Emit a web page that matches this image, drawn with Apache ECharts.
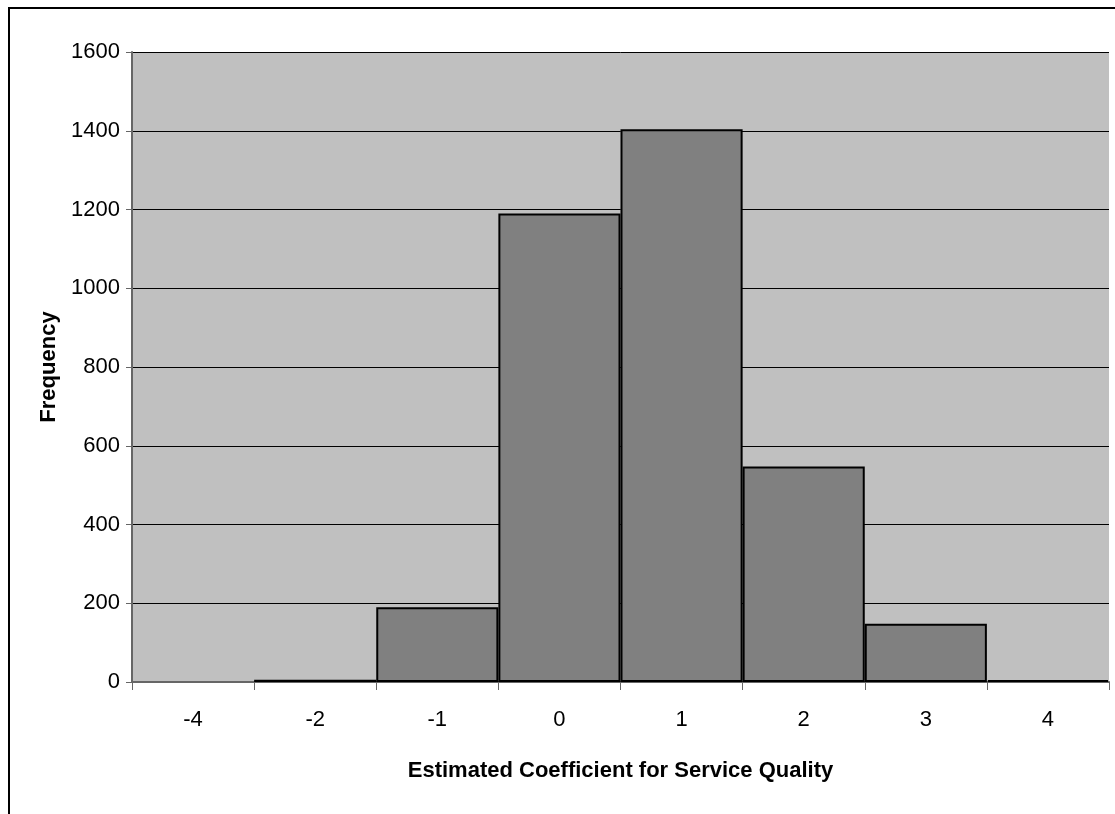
<!DOCTYPE html>
<html>
<head>
<meta charset="utf-8">
<script src="https://cdn.jsdelivr.net/npm/echarts@6/dist/echarts.min.js"></script>
<style>
html,body{margin:0;padding:0;background:#fff;}
#c{width:1115px;height:814px;}
</style>
</head>
<body>
<div id="c"></div>
<script>
const categories = ['-4', '-2', '-1', '0', '1', '2', '3', '4'];
const frequency = [0, 6, 190, 1190, 1404, 547, 148, 5];
const yTicks = { min: 0, max: 1600, interval: 200 };
const xTitle = 'Estimated Coefficient for Service Quality';
const yTitle = 'Frequency';

const FONT = '"Liberation Sans", Arial, sans-serif';
const chart = echarts.init(document.getElementById('c'), null, { renderer: 'canvas' });
const barData = frequency.map(v => v === 0
  ? { value: v, itemStyle: { borderWidth: 0 } }
  : { value: v });
chart.setOption({
  animation: false,
  backgroundColor: '#ffffff',
  graphic: [{
    type: 'rect', z: 100,
    shape: { x: 9, y: 8, width: 1200, height: 900 },
    style: { fill: 'none', stroke: '#000', lineWidth: 2 }
  }],
  grid: { left: 132, right: 6, top: 52, bottom: 132, backgroundColor: '#c0c0c0', show: true, borderWidth: 0 },
  xAxis: {
    type: 'category',
    data: categories,
    boundaryGap: true,
    name: xTitle,
    nameLocation: 'middle',
    nameGap: 78,
    nameTextStyle: { fontFamily: FONT, fontSize: 22, fontWeight: 'bold', color: '#000' },
    axisLine: { show: true, lineStyle: { color: '#666', width: 2 } },
    axisTick: { show: true, length: 8, lineStyle: { color: '#666', width: 1 } },
    axisLabel: { fontFamily: FONT, fontSize: 22, color: '#000', margin: 27 },
    splitLine: { show: false }
  },
  yAxis: {
    type: 'value',
    min: yTicks.min, max: yTicks.max, interval: yTicks.interval,
    name: yTitle,
    nameLocation: 'middle',
    nameGap: 72,
    nameTextStyle: { fontFamily: FONT, fontSize: 22, fontWeight: 'bold', color: '#000' },
    axisLine: { show: true, lineStyle: { color: '#666', width: 2 } },
    axisTick: { show: true, length: 6, lineStyle: { color: '#666', width: 1 } },
    axisLabel: { fontFamily: FONT, fontSize: 22, color: '#000', margin: 12, formatter: v => String(v) },
    splitLine: { show: true, lineStyle: { color: '#000', width: 1 } }
  },
  series: [{
    type: 'bar',
    data: barData,
    barCategoryGap: '0%',
    itemStyle: { color: '#808080', borderColor: '#000', borderWidth: 2 }
  }]
});
</script>
</body>
</html>
